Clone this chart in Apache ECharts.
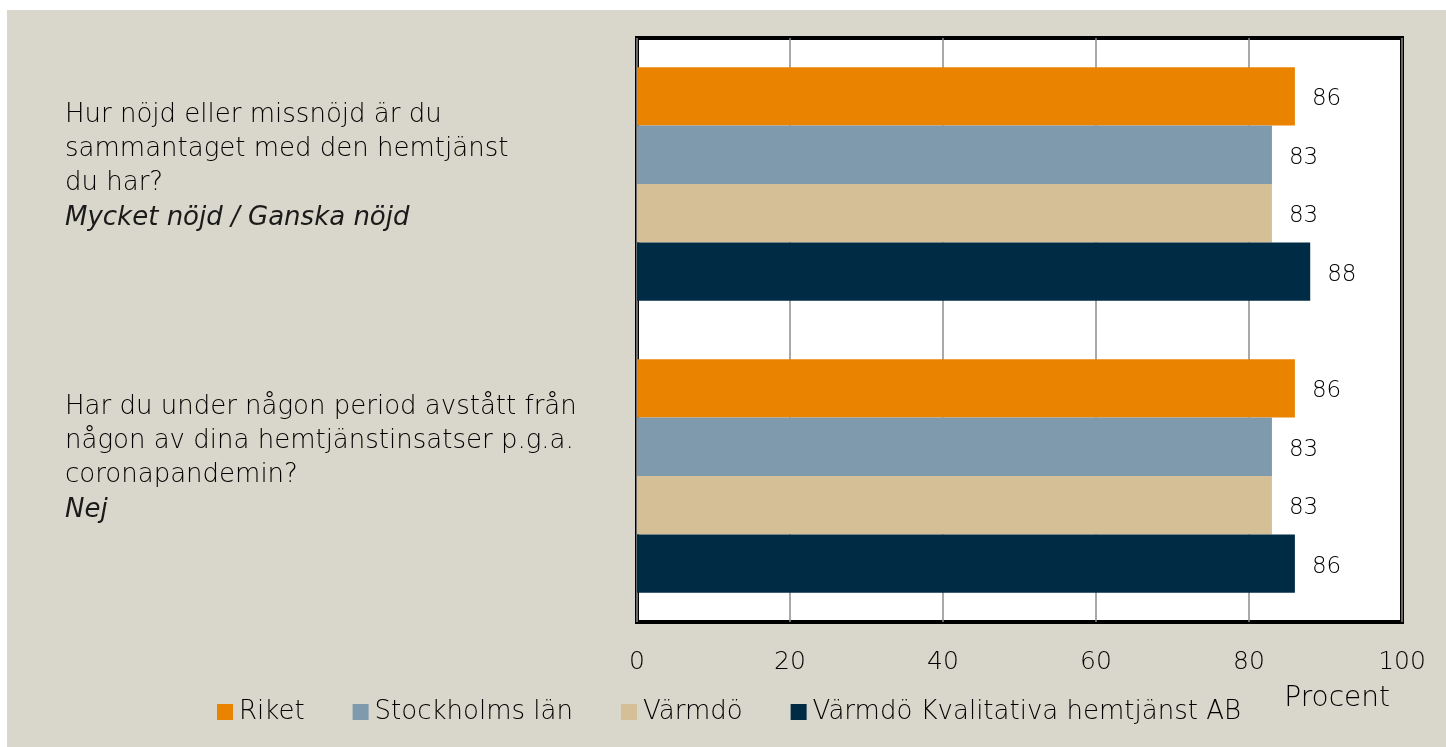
<!DOCTYPE html>
<html>
<head>
<meta charset="utf-8">
<script src="https://cdn.jsdelivr.net/npm/echarts@6/dist/echarts.min.js"></script>
<style>
  html, body { margin: 0; padding: 0; background: #ffffff; }
  #chart { position: absolute; left: 7px; top: 10px; width: 1439px; height: 737px; }
</style>
</head>
<body>
<div id="chart"></div>
<script>
// frågor (kategorier) och svarsalternativ
var questions = [
    ['Hur nöjd eller missnöjd är du', 'sammantaget med den hemtjänst', 'du har?'],
    ['Har du under någon period avstått från', 'någon av dina hemtjänstinsatser p.g.a.', 'coronapandemin?']
];
var answers = ['Mycket nöjd / Ganska nöjd', 'Nej'];
var categories = ['q1', 'q2'];

var riket = [86, 86];
var stockholm = [83, 83];
var varmdo = [83, 83];
var kvalitativa = [88, 86];

var seriesNames = ['Riket', 'Stockholms län', 'Värmdö', 'Värmdö Kvalitativa hemtjänst AB'];
var colors = ['#e98300', '#7f9aac', '#d4bf96', '#002b45'];
var xTicks = [0, 20, 40, 60, 80, 100];

var fontName = "'Century Gothic', 'DejaVu Sans', sans-serif";

function barSerie(name, data){
    return {
        name: name,
        type: 'bar',
        data: data,
        barGap: '0%',
        barCategoryGap: '20%',
        label: {
            show: true,
            position: 'right',
            distance: 17,
            offset: [0, 3],
            color: '#000',
            fontSize: 23,
            fontWeight: 200,
            fontFamily: fontName
        }
    };
}

var myChart = echarts.init(document.getElementById('chart'));
var option = {
    backgroundColor: '#d9d7cb',
    color: colors,
    animation: false,
    grid: {
        left: 630,
        top: 28,
        width: 765,
        height: 584,
        show: true,
        backgroundColor: '#ffffff',
        borderColor: '#000000',
        borderWidth: 4
    },
    legend: {
        left: 210,
        top: 689,
        padding: 0,
        itemWidth: 16,
        itemHeight: 16,
        itemGap: 48,
        icon: 'rect',
        textStyle: {
            color: '#000',
            fontSize: 26,
            fontWeight: 200,
            fontFamily: fontName,
            padding: [0, 0, 0, 1]
        },
        data: seriesNames
    },
    xAxis: {
        type: 'value',
        min: xTicks[0],
        max: xTicks[xTicks.length - 1],
        interval: 20,
        name: 'Procent',
        nameLocation: 'end',
        nameGap: -12,
        nameTextStyle: {
            color: '#000',
            fontSize: 28,
            fontWeight: 200,
            fontFamily: fontName,
            align: 'right',
            verticalAlign: 'top',
            padding: [63, 0, 0, 0]
        },
        axisLine: { show: false },
        axisTick: { show: false },
        axisLabel: {
            color: '#000',
            fontSize: 25,
            fontWeight: 200,
            fontFamily: fontName,
            margin: 28
        },
        splitLine: {
            show: true,
            lineStyle: { color: '#8c8c8c', width: 1.5 }
        }
    },
    yAxis: {
        type: 'category',
        data: categories,
        inverse: true,
        axisLine: { show: false },
        axisTick: { show: false },
        splitLine: { show: false },
        axisLabel: {
            align: 'left',
            margin: 572,
            padding: [0, 0, 34, 0],
            formatter: function(value, index){
                var q = questions[index];
                var str = '';
                for (var i = 0; i < q.length; i++) {
                    str += '{q|' + q[i] + '}\n';
                }
                str += '{s|' + answers[index] + '}';
                return str;
            },
            rich: {
                q: {
                    color: '#000',
                    fontSize: 26,
                    fontWeight: 200,
                    fontFamily: fontName,
                    lineHeight: 34
                },
                s: {
                    color: '#1a1a1a',
                    fontSize: 26,
                    fontWeight: 200,
                    fontStyle: 'italic',
                    fontFamily: fontName,
                    lineHeight: 36
                }
            }
        }
    },
    series: [
        barSerie(seriesNames[0], riket),
        barSerie(seriesNames[1], stockholm),
        barSerie(seriesNames[2], varmdo),
        barSerie(seriesNames[3], kvalitativa)
    ]
};
myChart.setOption(option);
</script>
</body>
</html>
